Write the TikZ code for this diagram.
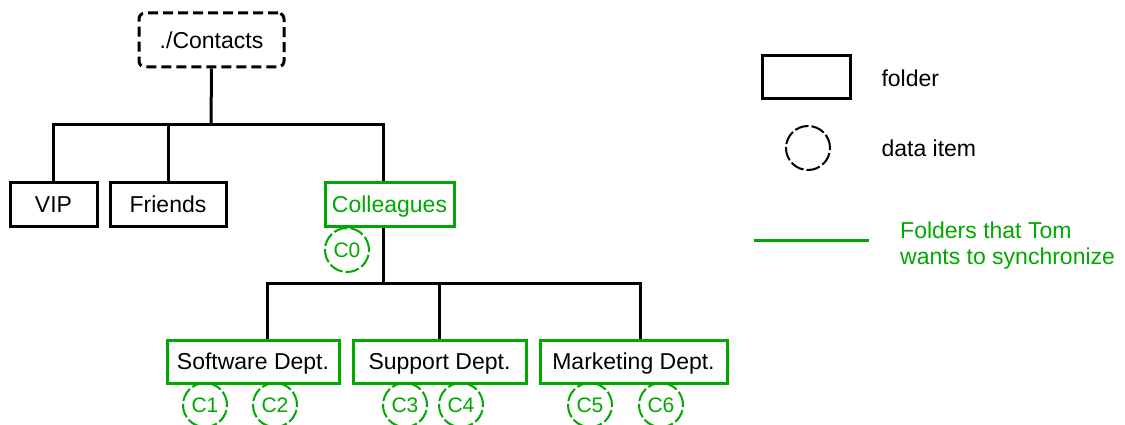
\documentclass[tikz,border=0pt]{standalone}
\usepackage{fontspec}
\setmainfont{Liberation Sans}
\definecolor{syncgreen}{RGB}{0,168,0}
\tikzset{
  every node/.style={font=\fontsize{23}{26}\selectfont},
  folder/.style={draw,line width=3pt,inner sep=0pt,minimum height=43pt,text height=16.5pt,text depth=0pt},
  syncfolder/.style={folder,draw=syncgreen},
  item/.style={circle,draw=syncgreen,text=syncgreen,line width=2pt,inner sep=0pt,
    minimum size=44pt,dash pattern=on 14pt off 3pt,font=\fontsize{21}{24}\selectfont,
    text height=15pt,text depth=0pt},
  link/.style={line width=3pt},
}

\begin{document}
\begin{tikzpicture}[x=1pt,y=-1pt]
  \useasboundingbox (0,0) rectangle (1125,425);
  % tree
  \node[folder,rounded corners=6pt,dash pattern=on 10pt off 5pt,minimum width=145pt,minimum height=54pt] (contacts) at (211.5,40) {./Contacts};
  \node[folder,minimum width=87pt] (vip) at (53.5,204.5) {VIP};
  \node[folder,minimum width=116pt] (friends) at (168,204.5) {Friends};
  \node[syncfolder,text=syncgreen,minimum width=129pt] (colleagues) at (389.5,204.5) {Colleagues};
  \node[item] (c0) at (347,250) {C0};
  \node[syncfolder,minimum width=172pt] (software) at (253,361.5) {Software Dept.};
  \node[syncfolder,minimum width=173pt] (support) at (439.5,361.5) {Support Dept.};
  \node[syncfolder,minimum width=187pt] (marketing) at (633.5,361.5) {Marketing Dept.};
  \node[item] (c1) at (205,405) {C1};
  \node[item] (c2) at (275,405) {C2};
  \node[item] (c3) at (405,405) {C3};
  \node[item] (c4) at (461,405) {C4};
  \node[item] (c5) at (590,405) {C5};
  \node[item] (c6) at (661,405) {C6};
  \coordinate (bar1) at (211,125);
  \coordinate (bar2) at (383,283);
  \draw[link] (contacts.south) -- (bar1);
  \draw[link] (vip.north) |- (bar1) -| ([xshift=-6.5pt]colleagues.north);
  \draw[link] (friends.north) -- (friends.north |- bar1);
  \draw[link] ([xshift=-6.5pt]colleagues.south) -- (bar2);
  \draw[link] ([xshift=14pt]software.north) |- (bar2) -| ([xshift=6.5pt]marketing.north);
  \draw[link] (support.north) -- (support.north |- bar2);
  % legend
  \node[folder,minimum width=88pt] (keyfolder) at (806,77.5) {};
  \node[anchor=west] (keyfoldertext) at (878,78) {folder};
  \node[item,draw=black] (keyitem) at (808,148) {};
  \node[anchor=west] (keyitemtext) at (878,148) {data item};
  \coordinate (keyline1) at (754,240);
  \coordinate (keyline2) at (869,240);
  \draw[link,syncgreen] (keyline1) -- (keyline2);
  \node[anchor=west,align=left,text=syncgreen,inner sep=0pt] (keylinetext) at (900,245.5) {Folders that Tom\\wants to synchronize};
\end{tikzpicture}
\end{document}
